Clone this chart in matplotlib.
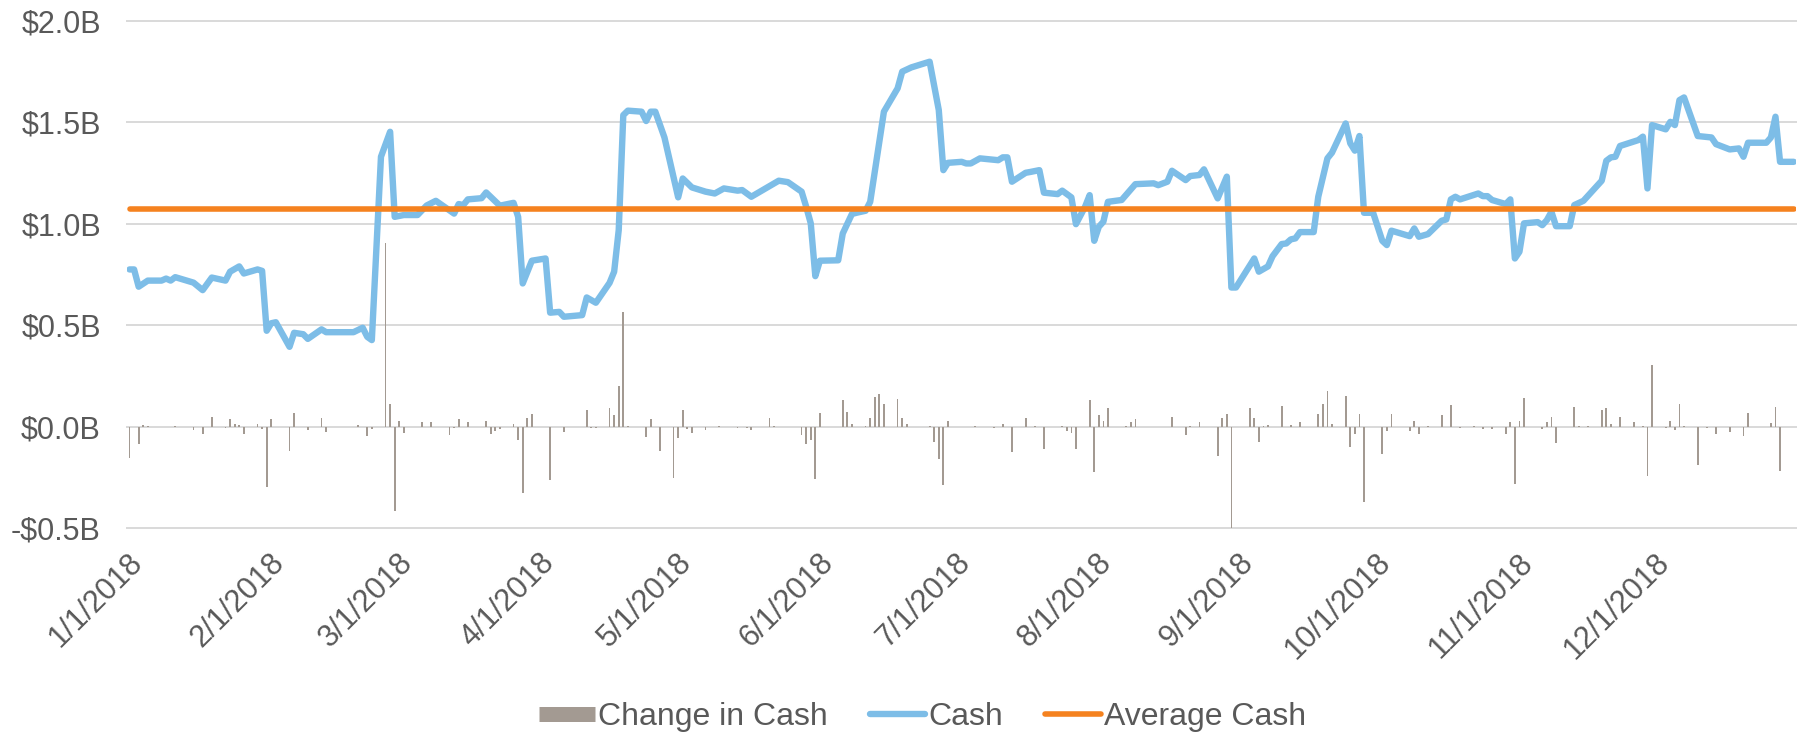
import matplotlib
matplotlib.use("Agg")
import matplotlib.pyplot as plt
import matplotlib.transforms as mtransforms
from matplotlib.lines import Line2D
import pandas as pd

plt.rcParams['font.family'] = ['Liberation Sans', 'DejaVu Sans']

# ---------------- data (values in $ billions, day = days after 1/1/2018) ----------------
year_start = "2018-01-01"

cash_day = [0, 1, 2, 4, 7, 8, 9, 10, 14, 16, 18, 21, 22, 24, 25, 28, 29, 30, 31, 32,
            35, 36, 38, 39, 42, 43, 49, 51, 52, 53, 55, 57, 58, 60, 63, 65, 67, 71, 72, 73,
            74, 77, 78, 81, 84, 85, 86, 88, 91, 92, 94, 95, 99, 100, 102, 105, 106, 107, 108, 109,
            112, 113, 114, 115, 117, 120, 121, 123, 126, 128, 130, 133, 134, 136, 142, 144, 147, 148, 149, 150,
            151, 155, 156, 158, 159, 161, 162, 165, 168, 169, 171, 175, 177, 178, 179, 182, 183, 184, 186, 190,
            191, 192, 193, 196, 197, 199, 200, 203, 204, 206, 207, 209, 210, 211, 212, 213, 214, 217, 220, 224,
            225, 227, 228, 231, 232, 234, 235, 238, 240, 241, 242, 246, 247, 249, 250, 252, 253, 254, 255, 256,
            259, 260, 262, 263, 266, 267, 268, 269, 270, 272, 274, 275, 276, 280, 281, 282, 284, 287, 288, 289,
            290, 291, 295, 296, 297, 298, 301, 302, 303, 304, 305, 308, 309, 310, 311, 312, 315, 316, 318, 322,
            323, 324, 325, 326, 330, 331, 332, 333, 336, 337, 338, 339, 340, 343, 346, 347, 350, 352, 353, 354,
            358, 359, 360, 361, 364]
cash_value = [0.775, 0.775, 0.690, 0.720, 0.720, 0.730, 0.720, 0.737, 0.710, 0.673, 0.735, 0.720, 0.764, 0.790, 0.755, 0.775, 0.768, 0.473, 0.510, 0.515,
              0.394, 0.463, 0.456, 0.433, 0.480, 0.466, 0.466, 0.488, 0.443, 0.427, 1.330, 1.453, 1.034, 1.043, 1.043, 1.090, 1.113, 1.050, 1.097, 1.092,
              1.120, 1.126, 1.154, 1.089, 1.103, 1.034, 0.706, 0.818, 0.829, 0.562, 0.566, 0.542, 0.550, 0.637, 0.611, 0.709, 0.764, 0.969, 1.535, 1.557,
              1.552, 1.506, 1.552, 1.552, 1.425, 1.130, 1.223, 1.179, 1.158, 1.149, 1.174, 1.163, 1.166, 1.133, 1.212, 1.205, 1.158, 1.084, 1.002, 0.742,
              0.818, 0.820, 0.952, 1.048, 1.054, 1.064, 1.108, 1.552, 1.667, 1.749, 1.770, 1.798, 1.560, 1.264, 1.300, 1.305, 1.297, 1.297, 1.322, 1.313,
              1.327, 1.327, 1.207, 1.251, 1.255, 1.264, 1.153, 1.146, 1.163, 1.130, 0.998, 1.084, 1.141, 0.916, 0.985, 1.010, 1.108, 1.117, 1.195, 1.199,
              1.190, 1.207, 1.261, 1.215, 1.235, 1.240, 1.268, 1.125, 1.232, 0.686, 0.686, 0.829, 0.764, 0.790, 0.840, 0.900, 0.903, 0.923, 0.928, 0.959,
              0.959, 1.133, 1.322, 1.350, 1.494, 1.396, 1.360, 1.432, 1.054, 1.054, 0.916, 0.895, 0.966, 0.939, 0.977, 0.936, 0.949, 1.015, 1.021, 1.120,
              1.133, 1.120, 1.149, 1.136, 1.136, 1.117, 1.097, 1.120, 0.829, 0.862, 1.002, 1.008, 0.993, 1.018, 1.059, 0.988, 0.988, 1.092, 1.113, 1.212,
              1.310, 1.327, 1.330, 1.383, 1.412, 1.429, 1.174, 1.486, 1.465, 1.502, 1.486, 1.609, 1.622, 1.432, 1.425, 1.392, 1.366, 1.371, 1.330, 1.399,
              1.399, 1.425, 1.527, 1.305, 1.305]

change_day = [0, 2, 3, 4, 10, 14, 16, 18, 21, 22, 23, 24, 25, 28, 29, 30, 31, 35, 36, 39,
              42, 43, 50, 52, 53, 56, 57, 58, 59, 60, 64, 66, 70, 71, 72, 74, 78, 79, 80, 81,
              84, 85, 86, 87, 88, 92, 95, 100, 101, 102, 105, 106, 107, 108, 109, 113, 114, 116, 119, 120,
              121, 122, 123, 126, 129, 133, 135, 136, 140, 141, 147, 148, 149, 150, 151, 156, 157, 158, 161, 162,
              163, 164, 165, 168, 169, 170, 175, 176, 177, 178, 179, 185, 189, 191, 193, 196, 198, 200, 204, 205,
              206, 207, 210, 211, 212, 213, 214, 218, 219, 220, 228, 231, 232, 234, 238, 239, 240, 241, 245, 246,
              247, 248, 249, 252, 254, 256, 260, 261, 262, 263, 266, 267, 268, 269, 270, 274, 275, 276, 280, 281,
              282, 284, 287, 289, 291, 294, 296, 298, 301, 302, 303, 304, 305, 309, 310, 311, 312, 316, 317, 319,
              322, 323, 324, 326, 329, 331, 332, 333, 336, 337, 338, 339, 340, 343, 345, 347, 350, 353, 354, 359,
              360, 361]
change_value = [-0.156, -0.085, 0.008, 0.006, 0.006, -0.016, -0.036, 0.049, -0.008, 0.036, 0.016, 0.008, -0.036, 0.016, -0.010, -0.296, 0.036, -0.118, 0.069, -0.016,
                0.041, -0.025, 0.008, -0.043, -0.013, 0.906, 0.112, -0.414, 0.030, -0.030, 0.023, 0.023, -0.041, -0.006, 0.036, 0.025, 0.030, -0.036, -0.020, -0.013,
                0.013, -0.066, -0.325, 0.041, 0.062, -0.263, -0.025, 0.082, -0.005, -0.005, 0.094, 0.056, 0.200, 0.566, 0.005, -0.049, 0.036, -0.118, -0.250, -0.054,
                0.085, -0.013, -0.030, -0.016, 0.005, -0.008, -0.008, -0.016, 0.041, 0.006, -0.041, -0.085, -0.066, -0.255, 0.069, 0.131, 0.074, 0.016, 0.006, 0.041,
                0.148, 0.164, 0.112, 0.135, 0.041, 0.016, 0.005, -0.074, -0.161, -0.287, 0.030, 0.006, -0.008, 0.016, -0.123, 0.041, 0.006, -0.107, 0.006, -0.020,
                -0.030, -0.107, 0.131, -0.222, 0.056, 0.030, 0.094, 0.006, 0.025, 0.036, 0.049, -0.041, 0.006, 0.025, -0.144, 0.041, 0.062, -0.546, 0.095, 0.041,
                -0.074, 0.006, 0.010, 0.102, 0.010, 0.025, 0.062, 0.112, 0.176, 0.016, 0.151, -0.099, -0.036, 0.062, -0.369, -0.136, -0.020, 0.062, -0.020, 0.030,
                -0.036, 0.006, 0.056, 0.107, -0.005, 0.005, -0.013, -0.013, -0.036, 0.025, -0.282, 0.030, 0.140, -0.013, 0.025, 0.049, -0.079, 0.099, 0.006, 0.006,
                0.082, 0.094, 0.016, 0.049, 0.025, 0.006, -0.243, 0.304, -0.008, 0.030, -0.016, 0.112, 0.006, -0.189, -0.008, -0.036, -0.025, -0.043, 0.069, 0.020,
                0.099, -0.218]

avg_cash = 1.074

month_ticks = ["2018-01-01", "2018-02-01", "2018-03-01", "2018-04-01", "2018-05-01", "2018-06-01",
               "2018-07-01", "2018-08-01", "2018-09-01", "2018-10-01", "2018-11-01", "2018-12-01"]
month_labels = ["1/1/2018", "2/1/2018", "3/1/2018", "4/1/2018", "5/1/2018", "6/1/2018",
                "7/1/2018", "8/1/2018", "9/1/2018", "10/1/2018", "11/1/2018", "12/1/2018"]
y_ticks = [-0.5, 0.0, 0.5, 1.0, 1.5, 2.0]
y_labels = ["-$0.5B", "$0.0B", "$0.5B", "$1.0B", "$1.5B", "$2.0B"]
legend_labels = ["Change in Cash", "Cash", "Average Cash"]

# ---------------- styles ----------------
BAR_C = "#A39A92"
CASH_C = "#7DBDE7"
AVG_C = "#F5821F"
GRID_C = "#D9D9D9"
TEXT_C = "#595959"
FS = 22

start = pd.Timestamp(year_start)
cash_dates = start + pd.to_timedelta(cash_day, unit="D")
change_dates = start + pd.to_timedelta(change_day, unit="D")
tick_dates = pd.to_datetime(month_ticks)

fig = plt.figure(figsize=(18.02, 7.34), dpi=100)
ax = fig.add_axes([0.0706, 0.2802, 0.9261, 0.6916])

ax.bar(change_dates, change_value, width=0.38, color=BAR_C, zorder=2, linewidth=0)
ax.plot(cash_dates, cash_value, color=CASH_C, lw=4.6, solid_joinstyle="round",
        solid_capstyle="round", zorder=3)
ax.plot([cash_dates[0], cash_dates[-1]], [avg_cash, avg_cash], color=AVG_C, lw=4.0,
        solid_capstyle="round", zorder=4)

half = pd.Timedelta(hours=12)
ax.set_xlim(cash_dates[0] - half, cash_dates[-1] + half)
ax.set_ylim(-0.5, 2.0)

ax.set_yticks(y_ticks)
ax.set_yticklabels(y_labels)
ax.set_xticks(tick_dates)
ax.set_xticklabels(month_labels, rotation=45, ha="right", rotation_mode="anchor")

ax.yaxis.grid(True, color=GRID_C, lw=1.4)
ax.xaxis.grid(False)
ax.set_axisbelow(True)
for gl in ax.get_ygridlines():
    gl.set_clip_on(False)
for s in ax.spines.values():
    s.set_visible(False)

ax.tick_params(axis="y", length=0, pad=19, labelsize=FS, labelcolor=TEXT_C)
ax.tick_params(axis="x", length=0, pad=14, labelsize=FS, labelcolor=TEXT_C)
offset = mtransforms.ScaledTranslation(-2 / 100, 0, fig.dpi_scale_trans)
for lab in ax.get_xticklabels():
    lab.set_transform(lab.get_transform() + offset)

handles = [Line2D([], [], color=BAR_C, lw=10.8, solid_capstyle="butt"),
           Line2D([], [], color=CASH_C, lw=4.6, solid_capstyle="round"),
           Line2D([], [], color=AVG_C, lw=4.0, solid_capstyle="round")]
fig.legend(handles, legend_labels, loc="center", bbox_to_anchor=(0.512, 0.023), ncol=3,
           frameon=False, fontsize=23, handlelength=1.75, handletextpad=0.1,
           columnspacing=1.3, labelcolor=TEXT_C)

fig.savefig("out.png", dpi=100)
